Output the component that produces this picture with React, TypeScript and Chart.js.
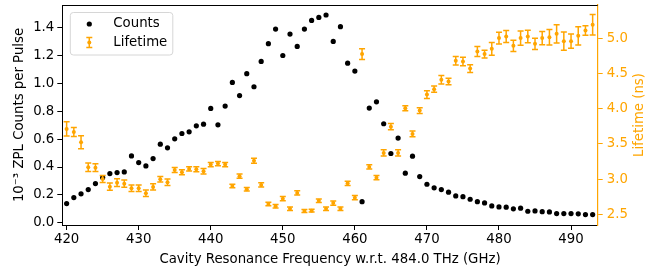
import React, { useEffect, useRef } from "react";
import { Chart, registerables } from "chart.js";

Chart.register(...registerables);

const freqs = [
  420, 421, 422, 423, 424, 425, 426, 427, 428, 429,
  430, 431, 432, 433, 434, 435, 436, 437, 438, 439,
  440, 441, 442, 443, 444, 445, 446, 447, 448, 449,
  450, 451, 452, 453, 454, 455, 456, 457, 458, 459,
  460, 461, 462, 463, 464, 465, 466, 467, 468, 469,
  470, 471, 472, 473, 474, 475, 476, 477, 478, 479,
  480, 481, 482, 483, 484, 485, 486, 487, 488, 489,
  490, 491, 492, 493,
];

const counts = [
  0.137, 0.18, 0.207, 0.238, 0.281, 0.324, 0.353, 0.36, 0.365, 0.48,
  0.432, 0.408, 0.461, 0.564, 0.538, 0.603, 0.641, 0.653, 0.696, 0.708,
  0.821, 0.703, 0.838, 1.008, 0.914, 1.071, 0.977, 1.159, 1.287, 1.392,
  1.202, 1.356, 1.267, 1.392, 1.454, 1.476, 1.493, 1.303, 1.409, 1.147,
  1.09, 0.151, 0.824, 0.869, 0.711, 0.497, 0.608, 0.356, 0.478, 0.331,
  0.276, 0.25, 0.238, 0.219, 0.192, 0.187, 0.168, 0.151, 0.142, 0.12,
  0.113, 0.111, 0.099, 0.104, 0.082, 0.084, 0.079, 0.077, 0.065, 0.065,
  0.065, 0.063, 0.058, 0.058,
];

const lifetime = [
  3.712, 3.669, 3.523, 3.168, 3.162, 3.001, 2.892, 2.949, 2.935, 2.869,
  2.869, 2.798, 2.888, 2.997, 2.955, 3.129, 3.097, 3.143, 3.139, 3.111,
  3.205, 3.219, 3.205, 2.902, 3.04, 2.855, 3.261, 2.916, 2.646, 2.614,
  2.722, 2.58, 2.803, 2.547, 2.551, 2.693, 2.58, 2.66, 2.58, 2.94,
  2.736, 4.773, 3.172, 3.02, 3.371, 3.744, 3.371, 4.006, 3.641, 3.972,
  4.199, 4.276, 4.408, 4.384, 4.678, 4.668, 4.568, 4.81, 4.773, 4.848,
  5.0, 5.023, 4.891, 5.0, 5.023, 4.919, 5.0, 5.014, 5.061, 4.957,
  4.957, 5.033, 5.108, 5.189,
];

const lifetimeErr = [
  0.1, 0.064, 0.092, 0.06, 0.055, 0.05, 0.052, 0.055, 0.05, 0.045,
  0.045, 0.045, 0.045, 0.04, 0.045, 0.035, 0.035, 0.03, 0.035, 0.04,
  0.03, 0.03, 0.03, 0.025, 0.03, 0.025, 0.035, 0.03, 0.025, 0.025,
  0.03, 0.025, 0.03, 0.02, 0.02, 0.025, 0.025, 0.03, 0.025, 0.03,
  0.03, 0.076, 0.03, 0.03, 0.045, 0.045, 0.045, 0.035, 0.04, 0.04,
  0.055, 0.045, 0.06, 0.045, 0.06, 0.06, 0.055, 0.07, 0.055, 0.09,
  0.085, 0.085, 0.08, 0.1, 0.09, 0.08, 0.095, 0.11, 0.13, 0.13,
  0.1, 0.13, 0.067, 0.145,
];

const xTicks = [420, 430, 440, 450, 460, 470, 480, 490];
const countTicks = [0.0, 0.2, 0.4, 0.6, 0.8, 1.0, 1.2, 1.4];
const lifetimeTicks = [2.5, 3.0, 3.5, 4.0, 4.5, 5.0];

const ORANGE = "#FFA500";
const FONT = "'DejaVu Sans', sans-serif";
const FS = 13.3;

const errorBarPlugin = {
  id: "errorBars",
  afterDatasetsDraw(chart: any) {
    const ctx = chart.ctx;
    const xs = chart.scales.x;
    const ys = chart.scales.y1;
    ctx.save();
    ctx.strokeStyle = ORANGE;
    ctx.lineWidth = 1.5;
    for (let i = 0; i < freqs.length; i++) {
      const px = xs.getPixelForValue(freqs[i]);
      const top = ys.getPixelForValue(lifetime[i] + lifetimeErr[i]);
      const bot = ys.getPixelForValue(lifetime[i] - lifetimeErr[i]);
      ctx.beginPath();
      ctx.moveTo(px, top);
      ctx.lineTo(px, bot);
      ctx.moveTo(px - 3, top);
      ctx.lineTo(px + 3, top);
      ctx.moveTo(px - 3, bot);
      ctx.lineTo(px + 3, bot);
      ctx.stroke();
    }
    ctx.restore();
  },
  afterDraw(chart: any) {
    const ctx = chart.ctx;
    const a = chart.chartArea;
    ctx.save();
    // top spine
    ctx.strokeStyle = "#000";
    ctx.lineWidth = 1;
    ctx.beginPath();
    ctx.moveTo(a.left, a.top + 0.5);
    ctx.lineTo(a.right, a.top + 0.5);
    ctx.stroke();

    // right axis title (reads bottom-to-top)
    ctx.save();
    ctx.translate(a.right + 42, (a.top + a.bottom) / 2);
    ctx.rotate(-Math.PI / 2);
    ctx.fillStyle = ORANGE;
    ctx.font = `${FS}px ${FONT}`;
    ctx.textAlign = "center";
    ctx.textBaseline = "middle";
    ctx.fillText("Lifetime (ns)", 0, 0);
    ctx.restore();

    // legend
    const lx = a.left + 8;
    const ly = a.top + 7.5;
    const lw = 102.5;
    const lh = 42.5;
    const r = 3;
    ctx.beginPath();
    ctx.moveTo(lx + r, ly);
    ctx.lineTo(lx + lw - r, ly);
    ctx.quadraticCurveTo(lx + lw, ly, lx + lw, ly + r);
    ctx.lineTo(lx + lw, ly + lh - r);
    ctx.quadraticCurveTo(lx + lw, ly + lh, lx + lw - r, ly + lh);
    ctx.lineTo(lx + r, ly + lh);
    ctx.quadraticCurveTo(lx, ly + lh, lx, ly + lh - r);
    ctx.lineTo(lx, ly + r);
    ctx.quadraticCurveTo(lx, ly, lx + r, ly);
    ctx.closePath();
    ctx.fillStyle = "rgba(255,255,255,0.8)";
    ctx.fill();
    ctx.strokeStyle = "#d6d6d6";
    ctx.lineWidth = 1;
    ctx.stroke();

    const mx = a.left + 27;
    const y1 = a.top + 19;
    const y2 = a.top + 37.5;
    ctx.fillStyle = "#000";
    ctx.beginPath();
    ctx.arc(mx, y1, 2.6, 0, Math.PI * 2);
    ctx.fill();

    ctx.strokeStyle = ORANGE;
    ctx.lineWidth = 1.5;
    ctx.beginPath();
    ctx.moveTo(mx, y2 - 5);
    ctx.lineTo(mx, y2 + 5);
    ctx.moveTo(mx - 3, y2 - 5);
    ctx.lineTo(mx + 3, y2 - 5);
    ctx.moveTo(mx - 3, y2 + 5);
    ctx.lineTo(mx + 3, y2 + 5);
    ctx.stroke();
    ctx.fillStyle = ORANGE;
    ctx.beginPath();
    ctx.arc(mx, y2, 2, 0, Math.PI * 2);
    ctx.fill();

    ctx.fillStyle = "#000";
    ctx.font = `${FS}px ${FONT}`;
    ctx.textBaseline = "middle";
    ctx.textAlign = "left";
    ctx.fillText("Counts", a.left + 51, y1);
    ctx.fillText("Lifetime", a.left + 51, y2);
    ctx.restore();
  },
};

export default function App() {
  const ref = useRef<HTMLCanvasElement | null>(null);

  useEffect(() => {
    if (!ref.current) return;
    const chart = new Chart(ref.current, {
      type: "scatter",
      data: {
        datasets: [
          {
            label: "Lifetime",
            data: freqs.map((f, i) => ({ x: f, y: lifetime[i] })),
            yAxisID: "y1",
            backgroundColor: ORANGE,
            borderColor: ORANGE,
            pointRadius: 2,
            pointBorderWidth: 0,
            order: 0,
          },
          {
            label: "Counts",
            data: freqs.map((f, i) => ({ x: f, y: counts[i] })),
            yAxisID: "y",
            backgroundColor: "#000",
            borderColor: "#000",
            pointRadius: 2.6,
            pointBorderWidth: 0,
            order: 1,
          },
        ],
      },
      plugins: [errorBarPlugin],
      options: {
        animation: false,
        responsive: false,
        maintainAspectRatio: false,
        devicePixelRatio: 1,
        layout: { padding: { top: 5, left: 0, right: 0, bottom: 0 } },
        plugins: {
          legend: { display: false },
          tooltip: { enabled: false },
        },
        scales: {
          x: {
            type: "linear",
            min: 419.4,
            max: 493.7,
            afterBuildTicks: (s: any) => {
              s.ticks = xTicks.map((v) => ({ value: v }));
            },
            afterFit: (s: any) => {
              s.height = 49;
              s.paddingLeft = 0;
              s.paddingRight = 0;
            },
            grid: {
              drawOnChartArea: false,
              drawTicks: true,
              tickLength: 5,
              tickColor: "#000",
            },
            border: { display: true, color: "#000", width: 1 },
            ticks: {
              color: "#000",
              font: { family: FONT, size: FS },
              padding: 2,
              maxRotation: 0,
              callback: (v: any) => String(v),
            },
            title: {
              display: true,
              text: "Cavity Resonance Frequency w.r.t. 484.0 THz (GHz)",
              color: "#000",
              font: { family: FONT, size: FS },
              padding: { top: 2, bottom: 6 },
            },
          },
          y: {
            type: "linear",
            position: "left",
            min: -0.017,
            max: 1.565,
            afterBuildTicks: (s: any) => {
              s.ticks = countTicks.map((v) => ({ value: v }));
            },
            afterFit: (s: any) => {
              s.width = 62.3;
              s.paddingTop = 0;
              s.paddingBottom = 0;
            },
            grid: {
              drawOnChartArea: false,
              drawTicks: true,
              tickLength: 5,
              tickColor: "#000",
            },
            border: { display: true, color: "#000", width: 1 },
            ticks: {
              color: "#000",
              font: { family: FONT, size: FS },
              padding: 3,
              callback: (v: any) => Number(v).toFixed(1),
            },
            title: {
              display: true,
              text: "10⁻³ ZPL Counts per Pulse",
              color: "#000",
              font: { family: FONT, size: FS },
              padding: { top: 12, bottom: 0 },
            },
          },
          y1: {
            type: "linear",
            position: "right",
            min: 2.348,
            max: 5.47,
            afterBuildTicks: (s: any) => {
              s.ticks = lifetimeTicks.map((v) => ({ value: v }));
            },
            afterFit: (s: any) => {
              s.width = 69.3;
              s.paddingTop = 0;
              s.paddingBottom = 0;
            },
            grid: {
              drawOnChartArea: false,
              drawTicks: true,
              tickLength: 5,
              tickColor: ORANGE,
            },
            border: { display: true, color: ORANGE, width: 1.2 },
            ticks: {
              color: ORANGE,
              font: { family: FONT, size: FS },
              padding: 4,
              callback: (v: any) => Number(v).toFixed(1),
            },
            title: { display: false },
          },
        },
      },
    } as any);
    return () => chart.destroy();
  }, []);

  return (
    <div style={{ position: "fixed", left: 0, top: 0, width: 667, height: 274, background: "#fff" }}>
      <canvas ref={ref} width={667} height={274} style={{ width: 667, height: 274, display: "block" }} />
    </div>
  );
}
